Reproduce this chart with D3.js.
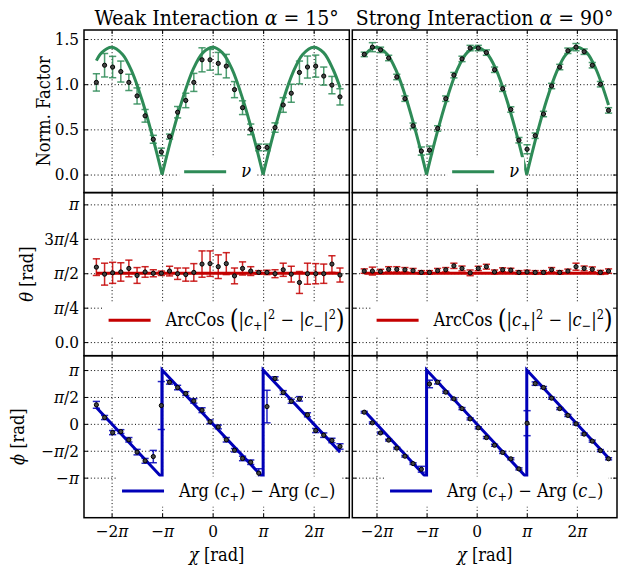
<!DOCTYPE html>
<html>
<head>
<meta charset="utf-8">
<script src="https://cdnjs.cloudflare.com/ajax/libs/d3/7.8.5/d3.min.js"></script>
<style>
  body { margin: 0; background: #fff; }
  text { white-space: pre; font-stretch: condensed; }
  .grid line { stroke: #000; stroke-width: 1; stroke-dasharray: 1,2.4; }
  .grid path, .ax path { display: none; }
  .ax line { stroke: #000; stroke-width: 1; }
</style>
</head>
<body>
<svg id="chart" width="618" height="568"></svg>
<script>
// chi positions of the measured points (weak run / strong run)
var chiWeak = [-7.23, -6.72, -6.22, -5.71, -5.21, -4.70, -4.20, -3.69, -3.19, -2.68, -2.18, -1.67, -1.17, -0.66, -0.16,
  0.35, 0.85, 1.36, 1.86, 2.37, 2.87, 3.38, 3.88, 4.39, 4.89, 5.40, 5.90, 6.41, 6.91, 7.42, 7.92];
var chiStrong = [-7.05, -6.54, -6.03, -5.52, -5.01, -4.50, -3.99, -3.47, -2.96, -2.45, -1.94, -1.43, -0.92, -0.41, 0.10,
  0.61, 1.12, 1.63, 2.14, 2.65, 3.16, 3.67, 4.19, 4.70, 5.21, 5.72, 6.23, 6.74, 7.25, 7.76, 8.27];

// norm. factor
var normWeak = [1.02, 1.21, 1.19, 1.14, 1.02, 0.87, 0.65, 0.39, 0.25, 0.42, 0.69, 0.82, 1.02, 1.27, 1.27, 1.23, 1.20,
  0.94, 0.74, 0.50, 0.30, 0.30, 0.52, 0.77, 0.90, 1.13, 1.19, 1.20, 1.09, 0.99, 0.86];
var normWeakErr = [0.096, 0.13, 0.118, 0.116, 0.09, 0.089, 0.07, 0.044, 0.042, 0.028, 0.063, 0.08, 0.10, 0.133, 0.115,
  0.122, 0.13, 0.089, 0.076, 0.059, 0.037, 0.037, 0.052, 0.081, 0.10, 0.126, 0.122, 0.122, 0.10, 0.096, 0.09];
var normStrong = [1.33, 1.41, 1.38, 1.29, 1.08, 0.84, 0.54, 0.26, 0.27, 0.51, 0.84, 1.10, 1.28, 1.40, 1.40, 1.35, 1.16,
  0.95, 0.72, 0.38, 0.28, 0.43, 0.67, 0.98, 1.19, 1.37, 1.41, 1.36, 1.21, 1.00, 0.71];
var normStrongErr = [0.025, 0.05, 0.03, 0.03, 0.03, 0.03, 0.03, 0.045, 0.045, 0.03, 0.03, 0.03, 0.03, 0.03, 0.03, 0.03,
  0.03, 0.03, 0.03, 0.03, 0.05, 0.03, 0.03, 0.03, 0.03, 0.03, 0.04, 0.03, 0.03, 0.03, 0.03];

// theta
var thetaWeak = [1.71, 1.55, 1.58, 1.60, 1.68, 1.52, 1.60, 1.57, 1.57, 1.62, 1.56, 1.54, 1.59, 1.78, 1.79, 1.72, 1.79,
  1.51, 1.68, 1.62, 1.59, 1.59, 1.56, 1.65, 1.55, 1.36, 1.56, 1.56, 1.56, 1.78, 1.53];
var thetaWeakErr = [0.19, 0.25, 0.24, 0.21, 0.19, 0.18, 0.12, 0.08, 0.05, 0.11, 0.13, 0.15, 0.20, 0.30, 0.29, 0.27, 0.25,
  0.18, 0.15, 0.10, 0.04, 0.05, 0.09, 0.15, 0.18, 0.25, 0.24, 0.23, 0.22, 0.19, 0.16];
var thetaStrong = [1.62, 1.62, 1.61, 1.66, 1.66, 1.65, 1.63, 1.59, 1.59, 1.63, 1.65, 1.74, 1.68, 1.58, 1.68, 1.72, 1.60,
  1.65, 1.64, 1.59, 1.60, 1.59, 1.59, 1.65, 1.59, 1.62, 1.72, 1.68, 1.66, 1.59, 1.62];
var thetaStrongErr = [0.05, 0.09, 0.05, 0.06, 0.06, 0.05, 0.05, 0.04, 0.04, 0.05, 0.05, 0.06, 0.055, 0.065, 0.05, 0.055,
  0.045, 0.045, 0.045, 0.04, 0.04, 0.04, 0.04, 0.05, 0.04, 0.045, 0.08, 0.055, 0.055, 0.045, 0.05];

// phi
var phiWeak = [1.11, 0.37, -0.51, -0.45, -0.93, -1.65, -2.16, -1.91, 1.07, 2.43, 2.12, 1.77, 1.34, 0.80, 0.12, -0.18,
  -0.93, -1.54, -2.02, -2.24, -2.88, 1.01, 2.65, 1.83, 1.32, 1.46, 0.53, -0.39, -0.66, -0.97, -1.32];
var phiWeakErr = [0.2, 0.12, 0.12, 0.11, 0.13, 0.16, 0.14, 0.36, 1.40, 0.11, 0.13, 0.11, 0.13, 0.14, 0.11, 0.11, 0.13,
  0.10, 0.13, 0.13, 0.26, 0.95, 0.10, 0.11, 0.12, 0.13, 0.12, 0.12, 0.13, 0.13, 0.16];
var phiStrong = [0.68, 0.06, -0.53, -0.95, -1.42, -1.89, -2.32, -2.65, 2.33, 2.43, 1.85, 1.46, 0.89, 0.29, -0.23, -0.80,
  -1.25, -1.67, -2.04, -2.63, 0.04, 2.35, 2.12, 1.50, 0.89, 0.49, 0.00, -0.60, -1.01, -1.56, -2.04];
var phiStrongErr = [0.05, 0.05, 0.05, 0.05, 0.05, 0.05, 0.05, 0.17, 0.22, 0.10, 0.06, 0.06, 0.06, 0.06, 0.06, 0.06,
  0.06, 0.06, 0.06, 0.06, 0.73, 0.10, 0.06, 0.06, 0.06, 0.06, 0.06, 0.06, 0.06, 0.06, 0.06];

// theory curves (zeros are the cusps)
var nuChiWeak = [-7.23, -6.9, -6.28, -5.6, -5.0, -4.4, -3.8, -3.1416, -2.5, -1.9, -1.2, -0.6, 0, 0.6, 1.2, 1.9, 2.5,
  3.1416, 3.8, 4.4, 5.0, 5.6, 6.28, 6.9, 7.5, 7.93];
var nuWeak = [1.26, 1.35, 1.41, 1.33, 1.13, 0.83, 0.46, 0, 0.45, 0.82, 1.17, 1.35, 1.41, 1.35, 1.17, 0.82, 0.45,
  0, 0.46, 0.83, 1.13, 1.33, 1.41, 1.35, 1.16, 0.96];
var nuChiStrong = [-7.05, -6.7, -6.28, -5.6, -5.0, -4.4, -3.8, -3.1416, -2.5, -1.9, -1.2, -0.6, 0, 0.6, 1.2, 1.9, 2.5,
  3.1416, 3.8, 4.4, 5.0, 5.6, 6.28, 6.9, 7.5, 8.27];
var nuStrong = [1.31, 1.38, 1.41, 1.33, 1.13, 0.83, 0.46, 0, 0.45, 0.82, 1.17, 1.35, 1.41, 1.35, 1.17, 0.82, 0.45,
  0, 0.46, 0.83, 1.13, 1.33, 1.41, 1.35, 1.16, 0.77];
var thetaLineWeak = [1.5708, 1.5708];
var thetaLineStrong = [1.5708, 1.5708];
var argChiWeak = [-7.23, -3.1416, -3.1416, 3.1416, 3.1416, 7.93];
var argWeak = [0.95, -3.1416, 3.1416, -3.1416, 3.1416, -1.65];
var argChiStrong = [-7.05, -3.1416, -3.1416, 3.1416, 3.1416, 8.27];
var argStrong = [0.77, -3.1416, 3.1416, -3.1416, 3.1416, -1.99];

// ticks
var PI = Math.PI;
var xTicks = [-2 * PI, -PI, 0, PI, 2 * PI];
var xTickLabels = ["\u22122π", "\u2212π", "0", "π", "2π"];
var normTicks = [0, 0.5, 1.0, 1.5];
var normTickLabels = ["0.0", "0.5", "1.0", "1.5"];
var thetaTicks = [0, PI / 4, PI / 2, 3 * PI / 4, PI];
var thetaTickLabels = ["0.0", "π/4", "π/2", "3π/4", "π"];
var phiTicks = [-PI, -PI / 2, 0, PI / 2, PI];
var phiTickLabels = ["\u2212π", "\u2212π/2", "0", "π/2", "π"];

var FONT = "'DejaVu Serif Condensed', 'DejaVu Serif', serif";
var svg = d3.select("#chart").attr("font-family", FONT).style("font-family", FONT);

var cols = [
  {x0: 84, x1: 349.3, dom: [-8.0, 8.5]},
  {x0: 352.3, x1: 617, dom: [-7.8, 8.8]}
];
var rows = [
  {y0: 30, y1: 192.6, dom: [-0.2, 1.6], ticks: normTicks, labels: normTickLabels, color: "#2e8b57"},
  {y0: 192.6, y1: 355.7, dom: [-0.31, 3.41], ticks: thetaTicks, labels: thetaTickLabels, color: "#c40000"},
  {y0: 355.7, y1: 517.7, dom: [-5.48, 3.98], ticks: phiTicks, labels: phiTickLabels, color: "#0000b8"}
];

var mathChars = /(π|χ|θ|ϕ|α|ν)/;
function italicize(sel, str) {
  sel.text(null);
  str.split(mathChars).forEach(function(s) {
    if (!s) return;
    sel.append("tspan").style("font-style", mathChars.test(s) ? "italic" : null).text(s);
  });
}

// parts: [string, kind] kind = n | i | sub | sup | big
function rich(sel, parts) {
  var shift = 0;
  parts.forEach(function(p) {
    var s = 0, fs = null;
    if (p[1] == "sub") { s = 4; fs = "0.7em"; }
    if (p[1] == "sup") { s = -7; fs = "0.7em"; }
    if (p[1] == "big") { s = 2; fs = "1.4em"; }
    var t = sel.append("tspan").attr("dy", s - shift).text(p[0]);
    if (fs) t.style("font-size", fs);
    if (p[1] == "i") t.style("font-style", "italic");
    shift = s;
  });
}

function txt(parent) {
  return parent.append("text").style("font-family", FONT).attr("fill", "#000");
}

var legendParts = [
  [["ν", "i"]],
  [["ArcCos ", "n"], ["(", "big"], ["|", "n"], ["c", "i"], ["+", "sub"], ["|", "n"], ["2", "sup"], [" \u2212 |", "n"],
   ["c", "i"], ["\u2212", "sub"], ["|", "n"], ["2", "sup"], [")", "big"]],
  [["Arg ", "n"], ["(", "n"], ["c", "i"], ["+", "sub"], [")", "n"], [" \u2212 Arg ", "n"], ["(", "n"], ["c", "i"],
   ["\u2212", "sub"], [")", "n"]]
];
var legendY = [141.7, 127.7, 135.3];
var legendDx = [1, 10, 12];

var panels = [
  [{chi: chiWeak, val: normWeak, err: normWeakErr, lx: nuChiWeak, ly: nuWeak, curve: true},
   {chi: chiStrong, val: normStrong, err: normStrongErr, lx: nuChiStrong, ly: nuStrong, curve: true}],
  [{chi: chiWeak, val: thetaWeak, err: thetaWeakErr, lx: [chiWeak[0], chiWeak[30]], ly: thetaLineWeak},
   {chi: chiStrong, val: thetaStrong, err: thetaStrongErr, lx: [chiStrong[0], chiStrong[30]], ly: thetaLineStrong}],
  [{chi: chiWeak, val: phiWeak, err: phiWeakErr, lx: argChiWeak, ly: argWeak},
   {chi: chiStrong, val: phiStrong, err: phiStrongErr, lx: argChiStrong, ly: argStrong}]
];

function drawPanel(r, c) {
  var col = cols[c], row = rows[r], p = panels[r][c];
  var w = col.x1 - col.x0, h = row.y1 - row.y0;
  var x = d3.scaleLinear().domain(col.dom).range([col.x0, col.x1]);
  var y = d3.scaleLinear().domain(row.dom).range([row.y1, row.y0]);
  var g = svg.append("g");

  // dotted grid
  g.append("g").attr("class", "grid")
    .attr("transform", "translate(0," + row.y1 + ")")
    .call(d3.axisBottom(x).tickValues(xTicks).tickSize(-h).tickFormat(""));
  g.append("g").attr("class", "grid")
    .attr("transform", "translate(" + col.x0 + ",0)")
    .call(d3.axisLeft(y).tickValues(row.ticks).tickSize(-w).tickFormat(""));

  // theory line, split at the cusps so they stay sharp
  var pts = p.lx.map(function(v, i) { return [v, p.ly[i]]; });
  var segs = [pts];
  if (p.curve) {
    segs = [];
    var cur = [];
    pts.forEach(function(q) {
      cur.push(q);
      if (q[1] === 0) { segs.push(cur); cur = [q]; }
    });
    segs.push(cur);
  }
  var line = d3.line().x(function(d) { return x(d[0]); }).y(function(d) { return y(d[1]); })
    .curve(p.curve ? d3.curveCatmullRom : d3.curveLinear);
  g.selectAll(".theory").data(segs).enter().append("path")
    .attr("d", line).attr("fill", "none")
    .attr("stroke", row.color).attr("stroke-width", 3).attr("stroke-linejoin", "miter");

  // error bars
  var eb = g.append("g").attr("stroke", row.color).attr("stroke-opacity", 0.85).attr("stroke-width", 1.5);
  p.chi.forEach(function(cx, i) {
    var px = x(cx), top = y(p.val[i] + p.err[i]), bot = y(p.val[i] - p.err[i]);
    eb.append("line").attr("x1", px).attr("x2", px).attr("y1", top).attr("y2", bot);
    eb.append("line").attr("x1", px - 3.6).attr("x2", px + 3.6).attr("y1", top).attr("y2", top);
    eb.append("line").attr("x1", px - 3.6).attr("x2", px + 3.6).attr("y1", bot).attr("y2", bot);
  });

  // points
  g.selectAll(".pt").data(p.chi).enter().append("circle")
    .attr("cx", function(d) { return x(d); })
    .attr("cy", function(d, i) { return y(p.val[i]); })
    .attr("r", 2.1).attr("fill", "#444").attr("stroke", "#000").attr("stroke-width", 1);

  // legend, white box, no frame
  var lg = g.append("g");
  lg.append("line").attr("x1", 0).attr("x2", 42).attr("y1", 0).attr("y2", 0)
    .attr("stroke", row.color).attr("stroke-width", 3);
  var lt = txt(lg).attr("x", 57).attr("y", 5.5).style("font-size", "18px");
  rich(lt, legendParts[r]);
  var bb = lg.node().getBBox();
  lg.insert("rect", ":first-child").attr("x", bb.x - 5).attr("y", bb.y - 3)
    .attr("width", bb.width + 10).attr("height", bb.height + 6).attr("fill", "#fff");
  var cx0 = (col.x0 + col.x1) / 2 + legendDx[r] - (bb.x + bb.width / 2);
  lg.attr("transform", "translate(" + cx0 + "," + (row.y0 + legendY[r]) + ")");

  // frame and inward ticks on all sides
  g.append("rect").attr("x", col.x0).attr("y", row.y0).attr("width", w).attr("height", h)
    .attr("fill", "none").attr("stroke", "#000").attr("stroke-width", 1.5);

  var left = g.append("g").attr("class", "ax").attr("transform", "translate(" + col.x0 + ",0)")
    .call(d3.axisLeft(y).tickValues(row.ticks).tickSizeInner(-4).tickSizeOuter(0).tickPadding(5)
      .tickFormat(function(d, i) { return c == 0 ? row.labels[i] : ""; }));
  g.append("g").attr("class", "ax").attr("transform", "translate(" + col.x1 + ",0)")
    .call(d3.axisRight(y).tickValues(row.ticks).tickSizeInner(-4).tickSizeOuter(0).tickFormat(""));
  g.append("g").attr("class", "ax").attr("transform", "translate(0," + row.y0 + ")")
    .call(d3.axisTop(x).tickValues(xTicks).tickSizeInner(-4).tickSizeOuter(0).tickFormat(""));
  var bottom = g.append("g").attr("class", "ax").attr("transform", "translate(0," + row.y1 + ")")
    .call(d3.axisBottom(x).tickValues(xTicks).tickSizeInner(-4).tickSizeOuter(0).tickPadding(7)
      .tickFormat(function(d, i) { return r == 2 ? xTickLabels[i] : ""; }));

  [left, bottom].forEach(function(a) {
    a.attr("font-family", FONT).attr("font-size", 17);
    a.selectAll("text").attr("fill", "#000").style("font-size", "17px").style("font-family", FONT)
      .each(function() { italicize(d3.select(this), d3.select(this).text()); });
  });
}

for (var r = 0; r < 3; r++) {
  for (var c = 0; c < 2; c++) drawPanel(r, c);
}

// titles
var titles = [
  [["Weak Interaction ", "n"], ["α", "i"], [" = 15°", "n"]],
  [["Strong Interaction ", "n"], ["α", "i"], [" = 90°", "n"]]
];
titles.forEach(function(t, i) {
  var tt = txt(svg).attr("x", (cols[i].x0 + cols[i].x1) / 2).attr("y", 25)
    .attr("text-anchor", "middle").style("font-size", "21px");
  rich(tt, t);
});

// axis labels
var yLabels = [
  {text: "Norm. Factor", x: 50, y: (rows[0].y0 + rows[0].y1) / 2},
  {text: "θ [rad]", x: 33, y: (rows[1].y0 + rows[1].y1) / 2},
  {text: "ϕ [rad]", x: 24, y: (rows[2].y0 + rows[2].y1) / 2}
];
yLabels.forEach(function(l) {
  var t = txt(svg).attr("text-anchor", "middle").style("font-size", "18px")
    .attr("transform", "translate(" + l.x + "," + l.y + ") rotate(-90)");
  italicize(t, l.text);
});
cols.forEach(function(col) {
  var t = txt(svg).attr("text-anchor", "middle").style("font-size", "18px")
    .attr("x", (col.x0 + col.x1) / 2).attr("y", 561);
  italicize(t, "χ [rad]");
});
</script>
</body>
</html>
